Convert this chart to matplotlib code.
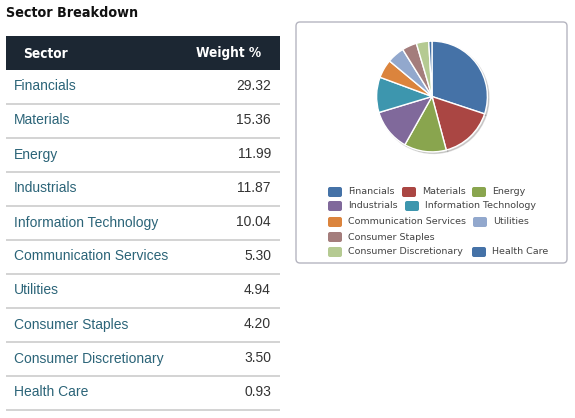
import matplotlib.pyplot as plt
from matplotlib.patches import FancyBboxPatch, Rectangle

# Data
sectors = ['Financials', 'Materials', 'Energy', 'Industrials', 'Information Technology',
           'Communication Services', 'Utilities', 'Consumer Staples',
           'Consumer Discretionary', 'Health Care']
weights = [29.32, 15.36, 11.99, 11.87, 10.04, 5.30, 4.94, 4.20, 3.50, 0.93]
colors = ['#4572A7', '#AA4643', '#89A54E', '#80699B', '#3D96AE',
          '#DB843D', '#92A8CD', '#A47D7C', '#B5CA92', '#4572A7']

W, H = 575, 418
fig = plt.figure(figsize=(W / 100, H / 100), dpi=100)
ax = fig.add_axes([0, 0, 1, 1])
ax.set_xlim(0, W)
ax.set_ylim(H, 0)
ax.axis('off')

font = 'Liberation Sans'

# title
ax.text(6, 13, 'Sector Breakdown', fontsize=10.3, fontweight='bold', fontstretch='condensed',
        family='DejaVu Sans', color='#111111', va='center', ha='left')

# table header
ax.add_patch(Rectangle((6, 36), 274, 34, facecolor='#1c2733', edgecolor='none'))
ax.text(23, 53.5, 'Sector', color='white', fontsize=9.8, fontweight='bold',
        fontstretch='condensed', family='DejaVu Sans', va='center', ha='left')
ax.text(261, 53.5, 'Weight %', color='white', fontsize=9.8, fontweight='bold',
        fontstretch='condensed', family='DejaVu Sans', va='center', ha='right')

# table rows
row_h = 34
for i, (s, w) in enumerate(zip(sectors, weights)):
    y0 = 70 + i * row_h
    ax.text(14, y0 + 16.5, s, color='#2b6478', fontsize=10, family=font,
            va='center', ha='left')
    ax.text(271, y0 + 16.5, f'{w:.2f}', color='#333333', fontsize=10, family=font,
            va='center', ha='right')
    ax.plot([6, 280], [y0 + row_h, y0 + row_h], color='#cccccc', lw=1.2,
            solid_capstyle='butt')

# chart box
ax.add_patch(FancyBboxPatch((296, 22), 271, 241, boxstyle='round,pad=0,rounding_size=4',
                            facecolor='white', edgecolor='#b5b5c0', lw=1))

# legend
swatch_w, swatch_h = 14, 10
legend_pos = [(328, 192), (402, 192), (472, 192),
              (328, 206), (405, 206),
              (328, 222), (473, 222),
              (328, 237),
              (328, 252), (472, 252)]
for (lx, ly), s, c in zip(legend_pos, sectors, colors):
    ax.add_patch(FancyBboxPatch((lx, ly - swatch_h / 2), swatch_w, swatch_h,
                                boxstyle='round,pad=0,rounding_size=2',
                                facecolor=c, edgecolor='none'))
    ax.text(lx + 20, ly, s, color='#444444', fontsize=6.8, family='DejaVu Sans',
            va='center', ha='left')

# pie
cx, cy, r = 432, 96.5, 56.5
pax = fig.add_axes([(cx - r) / W, 1 - (cy + r) / H, 2 * r / W, 2 * r / H])
pax.pie(weights, colors=colors, startangle=90, counterclock=False, radius=1,
        wedgeprops=dict(edgecolor='white', linewidth=1),
        shadow=dict(ox=0.02, oy=-0.02, shade=0.9, alpha=0.15))
pax.set_xlim(-1.02, 1.02)
pax.set_ylim(-1.02, 1.02)
pax.set_aspect('auto')
pax.axis('off')

fig.savefig('out.png', dpi=100)
